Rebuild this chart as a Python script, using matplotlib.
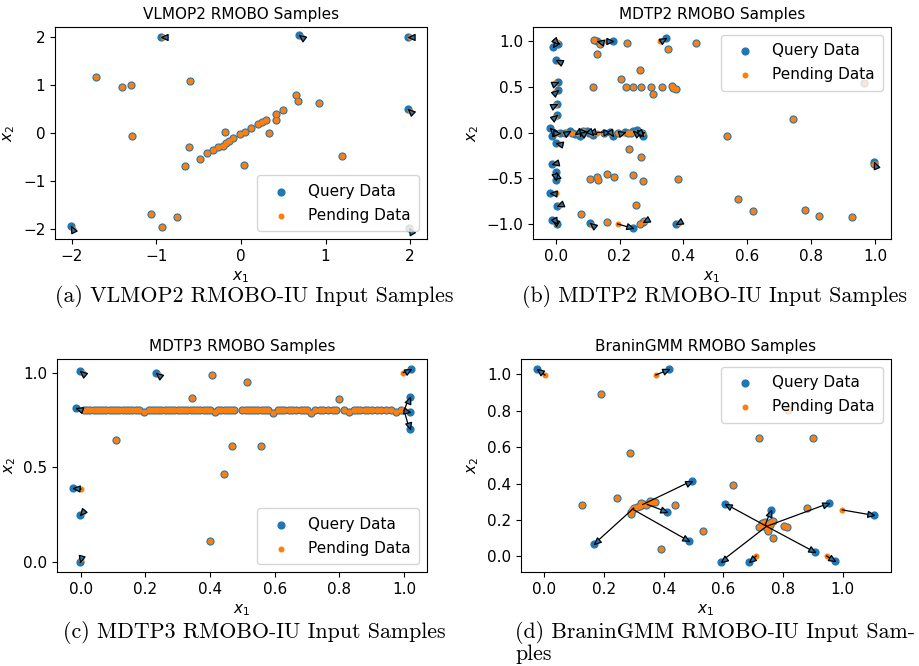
import numpy as np
import matplotlib
matplotlib.use('Agg')
import matplotlib.pyplot as plt
from matplotlib.path import Path
from matplotlib.markers import MarkerStyle
from matplotlib.transforms import Affine2D

###############################################################################
# data
# "same" = query point sitting on its pending point, "q"/"p" = moved query point and its pending origin

# (a) VLMOP2
a_same_x = [-1.72, -1.41, -1.30, -0.60, -1.29, -0.62, -0.66, -0.49, -0.40, -0.33, -0.27, -0.21,
            -0.19, -0.18, -0.14, -0.10, -0.01, 0.05, 0.04, 0.12, 0.20, 0.25, 0.30, 0.33, 0.41,
            0.41, 0.50, 0.65, 0.68, 0.92, 1.19, -1.07, -0.93, -0.76]
a_same_y = [1.17, 0.965, 0.99, 1.07, -0.07, -0.29, -0.68, -0.53, -0.42, -0.35, -0.30, -0.27,
            0.03, -0.21, -0.16, -0.11, -0.02, 0.03, -0.67, 0.10, 0.18, 0.22, 0.27, 0.0, 0.39,
            0.27, 0.47, 0.79, 0.67, 0.62, -0.48, -1.68, -1.95, -1.74]
a_q_x = [-0.95, 0.69, 1.97, 1.97, -2.01, 1.99]
a_q_y = [2.0, 2.03, 2.0, 0.50, -1.93, -1.97]
a_p_x = [-0.92, 0.72, 2.0, 2.0, -1.99, 2.0]
a_p_y = [2.0, 1.99, 2.0, 0.45, -2.0, -2.0]

# (b) MDTP2
b_same_x = [0.121, 0.139, 0.222, 0.353, 0.44, 0.128, 0.264, 0.205, 0.118, 0.219, 0.243, 0.267,
            0.30, 0.334, 0.363, 0.366, 0.377, 0.306, 0.23, 0.267, 0.108, 0.128, 0.131, 0.162,
            0.183, 0.243, 0.272, 0.384, 0.25, 0.078, 0.16, 0.264, 0.278, 0.536, 0.742, 0.57,
            0.617, 0.781, 0.826, 0.927, 0.966, 0.997, 0.03, 0.05, 0.087, 0.15, 0.195, 0.225,
            0.235, 0.27]
b_same_y = [1.01, 0.97, 0.98, 0.91, 0.98, 0.86, 0.68, 0.59, 0.50, 0.50, 0.50, 0.50,
            0.50, 0.50, 0.505, 0.49, 0.48, 0.42, -0.18, -0.27, -0.505, -0.49, -0.515, -0.45,
            -0.49, -0.47, -0.53, -0.51, -0.79, -0.89, -0.98, -1.0, -0.97, -0.036, 0.149, -0.73,
            -0.855, -0.847, -0.916, -0.92, 0.54, -0.345, 0.0, 0.0, 0.02, 0.0, 0.0, 0.0,
            0.0, 0.0]
b_q_x = [-0.007, 0.008, 0.128, 0.178, 0.346, 0.0, 0.008, 0.008, 0.004, 0.005, 0.0, -0.012,
         0.0, 0.002, -0.018, 0.005, -0.012, 0.004, 0.108, 0.243, 0.272, 0.378, 0.997,
         -0.018, -0.01, 0.014, 0.045, 0.061, 0.076, 0.097, 0.105, 0.118, 0.17, 0.18, 0.217,
         0.243, 0.254, 0.275]
b_q_y = [0.94, 0.965, 1.0, 1.0, 1.04, 0.79, 0.555, 0.47, 0.31, 0.19, -0.115, -0.34,
         -0.43, -0.52, -0.66, -0.80, -0.96, -1.0, -0.99, -1.05, -0.98, -1.0, -0.32,
         0.05, -0.04, 0.0, 0.02, -0.02, -0.04, 0.02, -0.01, -0.03, 0.01, -0.04, 0.01,
         0.02, 0.03, -0.04]
b_p_x = [0.003, -0.001, 0.14, 0.16, 0.327, 0.012, -0.002, -0.002, -0.002, -0.002, 0.012, 0.0,
         0.002, 0.0, 0.0, 0.012, 0.0, 0.0, 0.115, 0.194, 0.28, 0.386, 1.0,
         -0.005, 0.0, 0.005, 0.035, 0.07, 0.08, 0.09, 0.115, 0.11, 0.13, 0.172, 0.207,
         0.25, 0.262, 0.268]
b_p_y = [0.99, 1.0, 0.99, 1.0, 1.0, 0.77, 0.54, 0.44, 0.30, 0.17, -0.125, -0.33,
         -0.46, -0.49, -0.665, -0.79, -0.985, -0.975, -1.01, -1.0, -0.965, -0.985, -0.345,
         0.0, 0.0, 0.0, 0.0, 0.0, 0.0, 0.0, 0.0, 0.0, 0.0, 0.0, 0.0,
         0.0, 0.005, -0.01]

# (c) MDTP3
c_same_x = [0.405, 0.515, 0.343, 0.80, 0.109, 0.468, 0.558, 0.443, 0.401]
c_same_y = [0.99, 0.95, 0.864, 0.862, 0.644, 0.61, 0.614, 0.462, 0.109]
c_line_level = 0.80
c_line_x = [0.01, 0.02, 0.03, 0.04, 0.05, 0.06, 0.07, 0.08, 0.09, 0.10, 0.11, 0.12, 0.13,
            0.14, 0.15, 0.16, 0.17, 0.18, 0.21, 0.22, 0.23, 0.24, 0.25, 0.26, 0.27, 0.28,
            0.29, 0.30, 0.31, 0.32, 0.33, 0.34, 0.35, 0.36, 0.37, 0.38, 0.39, 0.40, 0.425,
            0.435, 0.445, 0.455, 0.465, 0.475, 0.50, 0.51, 0.52, 0.53, 0.54, 0.55, 0.56, 0.57,
            0.58, 0.61, 0.62, 0.63, 0.645, 0.655, 0.665, 0.68, 0.69, 0.70, 0.725, 0.74, 0.75,
            0.765, 0.78, 0.79, 0.815, 0.845, 0.855, 0.865, 0.88, 0.89, 0.90, 0.915, 0.93,
            0.945, 0.96, 0.99]
c_dip_x = [0.195, 0.415, 0.595, 0.713, 0.83, 0.975]
c_dip_y = [0.79, 0.79, 0.788, 0.785, 0.79, 0.792]
c_q_x = [-0.002, 0.232, -0.015, -0.023, -0.002, -0.002, 1.02, 1.017, 1.017, 1.017]
c_q_y = [1.01, 1.0, 0.815, 0.388, 0.247, 0.0, 1.02, 0.873, 0.794, 0.70]
c_p_x = [0.007, 0.243, 0.003, 0.001, 0.007, 0.0, 0.998, 1.0, 1.0, 1.0]
c_p_y = [0.997, 0.985, 0.805, 0.385, 0.265, 0.013, 1.0, 0.80, 0.80, 0.80]

# (d) BraninGMM
d_same_x = [0.189, 0.287, 0.72, 0.90, 0.818, 0.634, 0.125, 0.245, 0.439, 0.532, 0.392, 0.879,
            0.768, 0.29, 0.292, 0.296, 0.30, 0.31, 0.32, 0.33, 0.345, 0.36, 0.37, 0.355,
            0.325, 0.34, 0.73, 0.74, 0.75, 0.76, 0.765, 0.735, 0.745, 0.75, 0.72, 0.805,
            0.812, 0.758]
d_same_y = [0.89, 0.566, 0.652, 0.652, 0.804, 0.392, 0.282, 0.322, 0.282, 0.141, 0.04, 0.267,
            0.103, 0.23, 0.245, 0.26, 0.268, 0.272, 0.275, 0.288, 0.29, 0.296, 0.30, 0.302,
            0.292, 0.28, 0.182, 0.19, 0.178, 0.19, 0.196, 0.165, 0.155, 0.14, 0.16, 0.165,
            0.16, 0.17]
d_q_x = [-0.023, 0.418, 0.166, 0.494, 0.41, 0.485, 0.607, 0.76, 0.953, 0.908, 0.592, 0.687,
         0.974, 1.105]
d_q_y = [1.027, 1.027, 0.066, 0.414, 0.245, 0.084, 0.288, 0.255, 0.291, 0.022, -0.029, -0.03,
         -0.026, 0.225]
d_p_x = [0.002, 0.374, 0.30, 0.33, 0.345, 0.295, 0.745, 0.74, 0.745, 0.745, 0.745, 0.71,
         0.946, 0.999]
d_p_y = [0.996, 0.996, 0.265, 0.285, 0.285, 0.26, 0.165, 0.17, 0.165, 0.165, 0.165, 0.002,
         0.002, 0.255]

# 三角形箭头, 尖在原点, 指向 +x
HEAD = Path([(0, 0), (-1, 0.45), (-1, -0.45), (0, 0)], closed=True)
HEAD_MS = 9.5          # marker size in points
HEAD_LEN = HEAD_MS * 0.5 * 100 / 72.0   # head length in pixels


###############################################################################
#箭头: pending -> query, 尖在 query 上
def draw_arrows(ax, q_x, q_y, p_x, p_y):
    to_px = ax.transData
    to_data = ax.transData.inverted()
    for i in range(len(q_x)):
        q = to_px.transform((q_x[i], q_y[i]))
        p = to_px.transform((p_x[i], p_y[i]))
        d = q - p
        dist = np.hypot(d[0], d[1])
        if dist < 1e-6:
            continue
        ang = np.degrees(np.arctan2(d[1], d[0]))
        if dist > HEAD_LEN:
            base = to_data.transform(q - d / dist * HEAD_LEN)
            ax.plot([p_x[i], base[0]], [p_y[i], base[1]], color='k', lw=0.9, zorder=4)
        ms = MarkerStyle(HEAD, transform=Affine2D().rotate_deg(ang))
        ax.plot(q_x[i], q_y[i], marker=ms, ms=HEAD_MS, mfc='C0', mec='k', mew=0.9,
                ls='none', zorder=5)


#画一个子图
def draw_panel(ax, title, same_x, same_y, q_x, q_y, p_x, p_y, xlim, ylim, xticks, yticks, loc):
    query_x = list(same_x) + list(q_x)
    query_y = list(same_y) + list(q_y)
    pend_x = list(same_x) + list(p_x)
    pend_y = list(same_y) + list(p_y)
    ax.scatter(query_x, query_y, s=24, c='C0', label='Query Data', zorder=2)
    ax.scatter(pend_x, pend_y, s=11, c='C1', label='Pending Data', zorder=3)
    ax.set_xlim(xlim)
    ax.set_ylim(ylim)
    ax.set_xticks(xticks)
    ax.set_yticks(yticks)
    draw_arrows(ax, q_x, q_y, p_x, p_y)
    ax.set_title(title, fontsize=11)
    ax.set_xlabel('$x_1$', fontsize=11)
    ax.set_ylabel('$x_2$', fontsize=11)
    ax.tick_params(labelsize=11)
    leg = ax.legend(loc=loc, fontsize=11, labelspacing=0.6, borderpad=0.55)
    leg.set_zorder(6)


fig = plt.figure(figsize=(9.2, 6.66), dpi=100)
W, H = 920.0, 666.0

ax_a = fig.add_axes([55 / W, 1 - 239 / H, 372 / W, 212 / H])
ax_b = fig.add_axes([533 / W, 1 - 239 / H, 358 / W, 212 / H])
ax_c = fig.add_axes([57 / W, 1 - 572 / H, 370 / W, 213 / H])
ax_d = fig.add_axes([521 / W, 1 - 572 / H, 370 / W, 213 / H])

ticks01 = [0.0, 0.2, 0.4, 0.6, 0.8, 1.0]

draw_panel(ax_a, 'VLMOP2 RMOBO Samples', a_same_x, a_same_y, a_q_x, a_q_y, a_p_x, a_p_y,
           (-2.2, 2.2), (-2.2, 2.2), [-2, -1, 0, 1, 2], [-2, -1, 0, 1, 2], 'lower right')
draw_panel(ax_b, 'MDTP2 RMOBO Samples', b_same_x, b_same_y, b_q_x, b_q_y, b_p_x, b_p_y,
           (-0.071, 1.05), (-1.165, 1.155), ticks01, [-1.0, -0.5, 0.0, 0.5, 1.0], 'upper right')
c_all_x = c_same_x + c_line_x + c_dip_x
c_all_y = c_same_y + [c_line_level] * len(c_line_x) + c_dip_y
draw_panel(ax_c, 'MDTP3 RMOBO Samples', c_all_x, c_all_y, c_q_x, c_q_y, c_p_x, c_p_y,
           (-0.073, 1.071), (-0.054, 1.072), ticks01, [0.0, 0.5, 1.0], 'lower right')
draw_panel(ax_d, 'BraninGMM RMOBO Samples', d_same_x, d_same_y, d_q_x, d_q_y, d_p_x, d_p_y,
           (-0.078, 1.162), (-0.086, 1.084), ticks01, ticks01, 'upper right')

# 子图标题 (论文里的 caption)
cap = dict(family='cmr10', fontsize=15.8, va='center', ha='left')
fig.text(55 / W, 1 - 297 / H, '(a) VLMOP2 RMOBO-IU Input Samples', **cap)
fig.text(522 / W, 1 - 297 / H, '(b) MDTP2 RMOBO-IU Input Samples', **cap)
fig.text(63 / W, 1 - 632 / H, '(c) MDTP3 RMOBO-IU Input Samples', **cap)
fig.text(515 / W, 1 - 632 / H, '(d) BraninGMM RMOBO-IU Input Sam-', **cap)
fig.text(515 / W, 1 - 654 / H, 'ples', **cap)

fig.savefig('out.png', dpi=100)
